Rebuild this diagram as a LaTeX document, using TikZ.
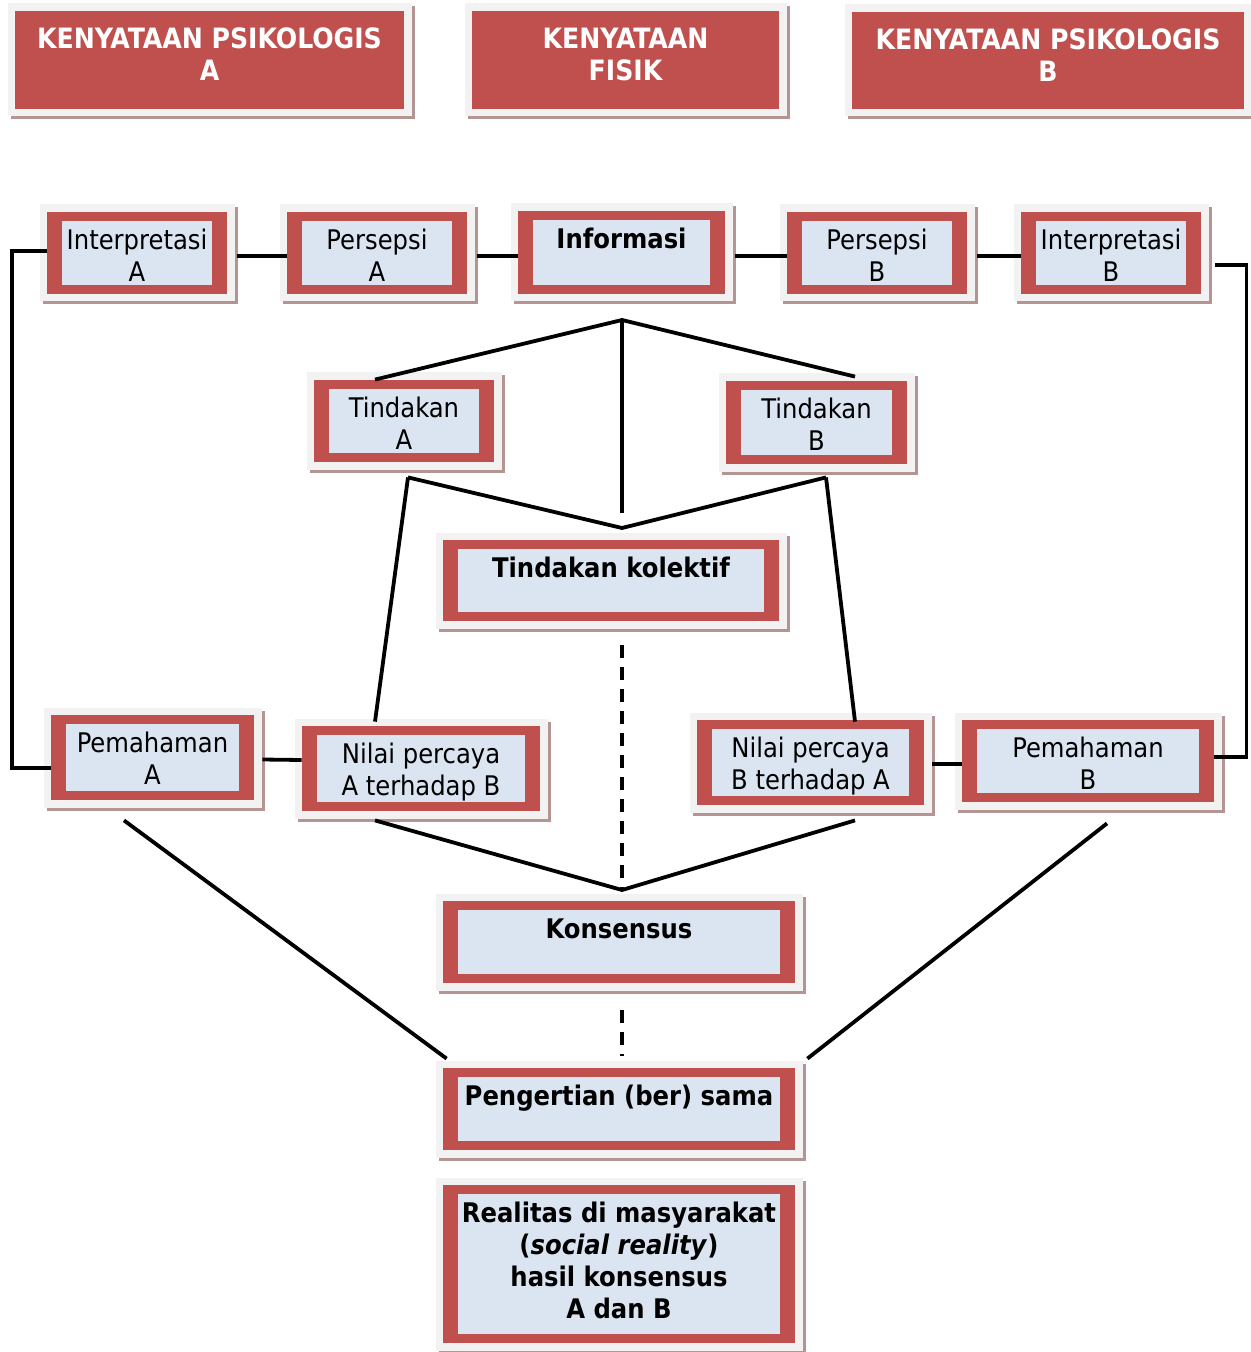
\documentclass[tikz,border=0pt]{standalone}
\usepackage{fontspec}
\setmainfont{DejaVu Sans Condensed}
\usetikzlibrary{fit,calc}
\definecolor{redc}{HTML}{C0504D}
\definecolor{bluec}{HTML}{DBE5F1}
\definecolor{framec}{HTML}{F2F2F2}
\definecolor{shadc}{HTML}{B59494}
\tikzset{
  txt/.style={anchor=north,inner sep=0pt,align=center,font=\fontsize{13.5}{16}\selectfont},
  btxt/.style={txt,font=\fontsize{13.5}{16}\selectfont\bfseries},
  htxt/.style={txt,font=\fontsize{14}{16}\selectfont\bfseries,text=white},
  conn/.style={line width=1.9pt,black},
  dconn/.style={conn,dash pattern=on 6.5pt off 4.5pt}
}
% name x1 y1 x2 y2 textstyle text
\newcommand\bx[7]{%
  \fill[shadc] (#2-4.5,#3-4.5) rectangle (#4+10.5,#5+10.5);
  \fill[framec] (#2-7.5,#3-7.5) rectangle (#4+7.5,#5+7.5);
  \node[fit={(#2,#3) (#4,#5)},inner sep=0pt,fill=redc] (#1) {};
  \fill[bluec] (#2+15,#3+9) rectangle (#4-15,#5-9);
  \node[#6] at ({(#2+#4)/2},#3+13) {\rule{0pt}{12pt}#7};
}
\newcommand\hbx[6]{%
  \fill[shadc] (#2-4.5,#3-4.5) rectangle (#4+10.5,#5+10.5);
  \fill[framec] (#2-7.5,#3-7.5) rectangle (#4+7.5,#5+7.5);
  \node[fit={(#2,#3) (#4,#5)},inner sep=0pt,fill=redc] (#1) {};
  \node[htxt] at ({(#2+#4)/2},#3+13) {\rule{0pt}{12pt}#6};
}
\begin{document}
\begin{tikzpicture}[x=0.5pt,y=-0.5pt]
\useasboundingbox[fill=white] (0,0) rectangle (1250,1352);
% headers
\hbx{hA}{15}{11}{404}{109}{KENYATAAN PSIKOLOGIS\\A}
\hbx{hF}{472}{11}{779}{109}{KENYATAAN\\FISIK}
\hbx{hB}{852}{12}{1244}{109}{KENYATAAN PSIKOLOGIS\\B}
% row 1
\bx{ia}{47}{212}{227}{294}{txt}{Interpretasi\\A}
\bx{pa}{287}{212}{467}{294}{txt}{Persepsi\\A}
\bx{inf}{518}{211}{725}{294}{btxt}{Informasi}
\bx{pb}{787}{212}{967}{294}{txt}{Persepsi\\B}
\bx{ib}{1021}{212}{1201}{294}{txt}{Interpretasi\\B}
% tindakan
\bx{ta}{314}{380}{494}{462}{txt}{Tindakan\\A}
\bx{tb}{726}{381}{907}{464}{txt}{Tindakan\\B}
\bx{tk}{443}{540}{779}{621}{btxt}{Tindakan kolektif}
% row 3
\bx{pma}{51}{715}{254}{800}{txt}{Pemahaman\\A}
\bx{nA}{302}{726}{540}{811}{txt}{Nilai percaya\\A terhadap B}
\bx{nB}{697}{720}{924}{805}{txt}{Nilai percaya\\B terhadap A}
\bx{pmb}{962}{720}{1214}{802}{txt}{Pemahaman\\B}
% bottom
\bx{ks}{443}{901}{795}{983}{btxt}{Konsensus}
\bx{pg}{443}{1068}{795}{1150}{btxt}{Pengertian (ber) sama}
\bx{rs}{443}{1185}{795}{1343}{btxt}{Realitas di masyarakat\\(\textit{social reality})\\hasil konsensus\\A dan B}
% connectors row 1
\draw[conn] ($(ia.east)+(10,3)$) -- ($(pa.west)+(0,3)$);
\draw[conn] ($(pa.east)+(10,3)$) -- ($(inf.west)+(0,3.5)$);
\draw[conn] ($(inf.east)+(10,3.5)$) -- ($(pb.west)+(0,3)$);
\draw[conn] ($(pb.east)+(10,3)$) -- ($(ib.west)+(0,3)$);
% side loops
\draw[conn] ($(ia.west)+(0,-2)$) -- ++(-35,0) |- ($(pma.west)+(0,10.5)$);
\draw[conn] ($(ib.east)+(14,12)$) -- ++(31,0) |- ($(pmb.east)+(0,-4)$);
% informasi to tindakan
\coordinate (j1) at (622,320);
\coordinate (j2) at (622,528);
\coordinate (j3) at (622,890);
\draw[conn] ($(ta.north)+(-29,0)$) -- (j1) -- ($(tb.north)+(38.5,-4)$);
\draw[conn] (j1) -- ++(0,193);
\draw[conn] ($(ta.south)+(4,15)$) -- (j2) -- ($(tb.south)+(9.5,13)$);
\draw[conn] ($(ta.south)+(4,15)$) -- ($(nA.north)+(-46,-4)$);
\draw[conn] ($(tb.south)+(9.5,13)$) -- ($(nB.north)+(44.5,2)$);
% row 3 links
\draw[conn] ($(pma.east)+(8,2)$) -- ($(nA.west)+(0,-8.5)$);
\draw[conn] ($(nB.east)+(8,1.5)$) -- ($(pmb.west)+(0,3)$);
% dashed
\draw[dconn] ($(tk.south)+(11,24)$) -- (j3);
\draw[dconn] ($(ks.south)+(3,27)$) -- ($(pg.north)+(3,-12)$);
% to konsensus
\draw[conn] ($(nA.south)+(-46,9)$) -- (j3) -- ($(nB.south)+(44.5,15)$);
% to pengertian
\draw[conn] ($(pma.south)+(-28.5,20)$) -- ($(pg.north west)+(4,-9)$);
\draw[conn] ($(pmb.south)+(19,21)$) -- ($(pg.north east)+(12,-9)$);
\end{tikzpicture}
\end{document}
